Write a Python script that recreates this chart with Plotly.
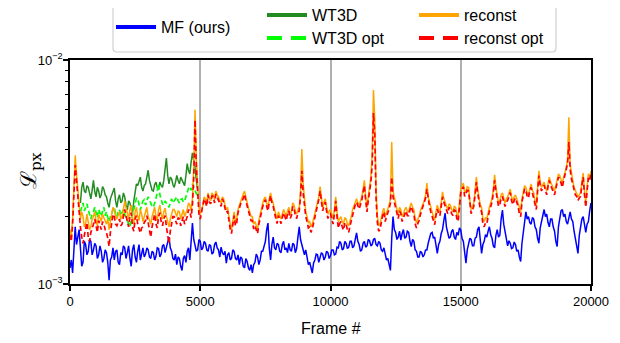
import plotly.graph_objects as go

# ---------------- data (values in units of 1e-3, one value every 50 frames) ----------------
STEP = 50

MF_E3 = [
    1.18, 1.28, 1.12, 1.45, 1.80, 1.50, 1.62, 1.75, 1.45, 1.20, 1.25, 1.55, 1.50, 1.35, 1.40, 1.58, 1.55, 1.35, 1.42, 1.52,
    1.48, 1.30, 1.35, 1.48, 1.40, 1.25, 1.30, 1.42, 1.38, 1.25, 1.04, 1.28, 1.32, 1.45, 1.28, 1.40, 1.42, 1.25, 1.22, 1.38,
    1.35, 1.48, 1.45, 1.30, 1.38, 1.48, 1.30, 1.20, 1.42, 1.50, 1.32, 1.25, 1.40, 1.50, 1.28, 1.38, 1.45, 1.32, 1.36, 1.45,
    1.42, 1.32, 1.30, 1.40, 1.38, 1.28, 1.33, 1.45, 1.44, 1.32, 1.36, 1.48, 1.50, 1.38, 1.45, 1.52, 1.62, 1.45, 1.40, 1.30,
    1.28, 1.36, 1.22, 1.32, 1.30, 1.20, 1.15, 1.30, 1.34, 1.25, 1.40, 1.45, 1.28, 1.55, 1.87, 1.58, 1.50, 1.40, 1.42, 1.58,
    1.55, 1.42, 1.45, 1.55, 1.52, 1.42, 1.40, 1.50, 1.48, 1.36, 1.38, 1.50, 1.54, 1.45, 1.42, 1.32, 1.46, 1.38, 1.35, 1.40,
    1.24, 1.35, 1.38, 1.28, 1.30, 1.42, 1.40, 1.30, 1.28, 1.35, 1.22, 1.32, 1.30, 1.20, 1.18, 1.30, 1.26, 1.18, 1.15, 1.22,
    1.12, 1.22, 1.25, 1.36, 1.32, 1.22, 1.28, 1.40, 1.40, 1.50, 1.55, 1.75, 1.87, 1.45, 1.28, 1.50, 1.62, 1.45, 1.42, 1.52,
    1.50, 1.40, 1.38, 1.50, 1.55, 1.42, 1.45, 1.38, 1.52, 1.42, 1.40, 1.52, 1.50, 1.38, 1.44, 1.62, 1.80, 1.58, 1.50, 1.40,
    1.35, 1.42, 1.30, 1.22, 1.25, 1.16, 1.12, 1.24, 1.28, 1.36, 1.35, 1.25, 1.30, 1.38, 1.36, 1.28, 1.32, 1.40, 1.38, 1.30,
    1.34, 1.42, 1.42, 1.35, 1.36, 1.46, 1.45, 1.55, 1.52, 1.42, 1.44, 1.55, 1.52, 1.44, 1.46, 1.55, 1.55, 1.45, 1.48, 1.60,
    1.69, 1.55, 1.50, 1.40, 1.42, 1.52, 1.55, 1.46, 1.48, 1.58, 1.56, 1.48, 1.50, 1.58, 1.60, 1.50, 1.48, 1.55, 1.52, 1.42,
    1.40, 1.45, 1.36, 1.28, 1.30, 1.22, 1.15, 1.60, 2.00, 1.75, 1.70, 1.58, 1.62, 1.72, 1.57, 1.68, 1.75, 1.60, 1.62, 1.72,
    1.70, 1.55, 1.47, 1.58, 1.55, 1.42, 1.40, 1.32, 1.32, 1.40, 1.38, 1.32, 1.35, 1.42, 1.42, 1.52, 1.58, 1.68, 1.70, 1.60,
    1.62, 1.45, 1.37, 1.50, 1.55, 1.68, 1.75, 1.92, 2.07, 1.80, 1.70, 1.60, 1.62, 1.72, 1.75, 1.62, 1.58, 1.70, 1.65, 1.78,
    1.74, 1.60, 1.55, 1.35, 1.24, 1.42, 1.50, 1.60, 1.58, 1.48, 1.48, 1.60, 1.62, 1.75, 1.80, 1.52, 1.37, 1.50, 1.55, 1.66,
    1.62, 1.72, 1.80, 1.66, 1.60, 1.48, 1.45, 1.65, 1.75, 1.62, 1.65, 1.95, 2.14, 1.85, 1.70, 1.55, 1.48, 1.56, 1.52, 1.44,
    1.45, 1.54, 1.50, 1.40, 1.42, 1.32, 1.26, 1.52, 1.70, 1.95, 2.10, 1.95, 2.00, 1.88, 1.85, 1.98, 1.95, 1.80, 1.75, 1.60,
    1.52, 1.78, 1.90, 2.05, 2.15, 2.00, 2.05, 1.88, 1.80, 1.95, 1.95, 1.80, 1.72, 1.55, 1.47, 1.80, 2.00, 2.12, 2.15, 2.00,
    2.05, 1.90, 1.85, 2.02, 2.10, 1.95, 1.90, 1.72, 1.60, 1.45, 1.37, 1.65, 1.80, 1.95, 2.00, 1.80, 1.70, 1.85, 1.90, 2.12,
    2.30,
]

RECONST_E3 = [
    1.75, 1.62, 1.95, 2.80, 3.75, 3.10, 2.60, 2.20, 1.95, 2.10, 2.00, 1.80, 1.85, 2.05, 1.90, 1.75, 1.80, 1.95, 2.00, 2.10,
    1.92, 1.82, 2.05, 1.95, 1.90, 2.05, 1.98, 1.88, 1.85, 1.95, 1.75, 1.90, 2.05, 2.20, 2.15, 2.00, 1.95, 2.05, 2.10, 1.95,
    2.00, 2.15, 2.35, 2.20, 2.05, 1.95, 2.15, 2.25, 1.95, 1.85, 2.10, 2.20, 2.00, 1.92, 2.15, 2.05, 1.90, 2.00, 2.05, 2.20,
    2.00, 1.92, 1.85, 2.00, 2.10, 2.20, 2.00, 1.92, 2.15, 2.25, 2.05, 1.95, 2.10, 2.18, 2.00, 1.90, 1.80, 1.95, 2.05, 2.15,
    2.15, 2.05, 2.00, 2.12, 2.10, 1.95, 2.05, 2.15, 2.00, 2.08, 2.15, 2.30, 2.25, 2.12, 2.40, 3.30, 6.00, 3.60, 2.70, 2.20,
    2.05, 2.15, 2.25, 2.45, 2.40, 2.30, 2.55, 2.40, 2.35, 2.55, 2.50, 2.38, 2.60, 2.50, 2.45, 2.35, 2.30, 2.45, 2.40, 2.25,
    2.15, 2.20, 2.00, 1.85, 1.75, 1.95, 2.10, 1.90, 1.95, 2.15, 2.25, 2.35, 2.40, 2.52, 2.60, 2.42, 2.30, 2.18, 2.10, 2.00,
    2.00, 1.85, 1.90, 1.80, 1.75, 1.92, 2.05, 2.20, 2.30, 2.40, 2.45, 2.30, 2.20, 2.40, 2.55, 2.38, 2.30, 2.15, 2.05, 1.95,
    2.10, 2.02, 1.95, 2.05, 2.15, 2.08, 2.00, 2.12, 2.20, 2.05, 2.10, 2.30, 2.25, 2.10, 2.05, 2.15, 2.20, 2.60, 4.00, 2.80,
    2.30, 2.10, 2.00, 1.88, 1.90, 1.80, 1.85, 1.95, 2.05, 2.20, 2.30, 2.45, 2.72, 2.35, 2.20, 2.32, 2.40, 2.20, 2.05, 2.12,
    2.15, 2.05, 1.95, 2.15, 2.45, 2.10, 1.90, 1.95, 2.00, 1.90, 1.85, 1.98, 1.95, 1.85, 1.82, 1.92, 2.00, 2.15, 2.25, 2.35,
    2.40, 2.30, 2.25, 2.35, 2.45, 2.65, 2.90, 2.45, 2.20, 2.45, 2.70, 3.00, 3.80, 7.35, 5.40, 2.60, 2.00, 1.82, 1.85, 2.00,
    2.10, 2.18, 2.00, 2.08, 2.15, 2.25, 2.40, 4.30, 2.60, 2.40, 2.30, 2.15, 2.05, 2.20, 2.15, 2.00, 2.05, 2.15, 2.20, 2.10,
    2.10, 2.22, 2.30, 2.20, 2.15, 1.95, 1.87, 1.95, 2.00, 2.12, 2.20, 2.30, 2.35, 2.50, 2.82, 2.45, 2.30, 2.18, 2.10, 2.00,
    1.93, 2.10, 2.25, 2.15, 2.10, 2.30, 2.58, 2.40, 2.30, 2.20, 2.15, 2.28, 2.25, 2.15, 2.10, 2.22, 2.20, 2.05, 2.00, 2.30,
    2.65, 2.75, 2.82, 2.55, 2.60, 2.72, 2.70, 2.35, 2.15, 2.22, 2.30, 2.60, 3.00, 2.65, 2.40, 2.25, 2.20, 1.95, 1.90, 1.98,
    1.95, 2.10, 2.20, 2.30, 2.40, 2.65, 3.07, 2.70, 2.45, 2.30, 2.35, 2.50, 2.55, 2.40, 2.30, 2.40, 2.45, 2.55, 2.65, 2.45,
    2.35, 2.45, 2.50, 2.40, 2.30, 2.15, 2.10, 2.40, 2.60, 2.75, 2.70, 2.55, 2.50, 2.70, 2.80, 2.62, 2.55, 2.35, 2.25, 2.70,
    3.20, 2.85, 2.70, 2.78, 2.85, 2.70, 2.60, 2.80, 3.00, 2.85, 2.75, 2.65, 2.60, 2.75, 2.90, 3.10, 3.05, 2.90, 2.80, 3.00,
    3.15, 3.30, 3.60, 5.55, 3.40, 3.05, 2.90, 2.70, 2.60, 2.55, 2.45, 2.50, 2.55, 2.85, 3.13, 2.60, 2.30, 2.70, 3.10, 3.00,
    3.20,
]

RECONST_OPT_E3 = [
    1.65, 1.55, 1.85, 2.60, 3.40, 2.90, 2.40, 2.05, 1.80, 1.62, 1.52, 1.65, 1.75, 1.88, 1.62, 1.55, 1.70, 1.80, 1.85, 1.95,
    1.78, 1.70, 1.92, 1.82, 1.75, 1.90, 1.85, 1.75, 1.70, 1.60, 1.47, 1.70, 1.90, 2.05, 2.00, 1.85, 1.82, 1.90, 1.95, 1.82,
    1.85, 2.00, 2.15, 2.02, 1.90, 1.80, 2.00, 2.08, 1.80, 1.72, 1.95, 2.02, 1.85, 1.75, 1.69, 1.78, 1.80, 1.88, 1.92, 2.02,
    1.85, 1.72, 1.62, 1.80, 1.95, 2.05, 1.85, 1.78, 2.00, 2.08, 1.90, 1.82, 1.95, 2.02, 1.80, 1.65, 1.52, 1.72, 1.90, 2.00,
    2.00, 1.90, 1.85, 1.98, 1.95, 1.82, 1.90, 2.00, 1.85, 1.92, 2.00, 2.15, 2.10, 1.98, 2.25, 3.00, 5.40, 3.30, 2.50, 2.05,
    1.95, 2.10, 2.18, 2.40, 2.32, 2.22, 2.50, 2.32, 2.28, 2.48, 2.45, 2.30, 2.52, 2.45, 2.38, 2.28, 2.22, 2.40, 2.32, 2.18,
    2.08, 2.12, 1.92, 1.76, 1.68, 1.88, 2.02, 1.82, 1.88, 2.08, 2.18, 2.28, 2.32, 2.45, 2.52, 2.35, 2.22, 2.10, 2.02, 1.92,
    1.92, 1.76, 1.82, 1.72, 1.68, 1.85, 1.98, 2.12, 2.22, 2.32, 2.38, 2.22, 2.12, 2.32, 2.48, 2.30, 2.22, 2.08, 1.96, 1.86,
    2.02, 1.95, 1.86, 1.98, 2.08, 2.00, 1.92, 2.05, 2.12, 1.96, 2.02, 2.22, 2.18, 2.02, 1.96, 2.08, 2.12, 2.45, 3.20, 2.55,
    2.20, 2.00, 1.90, 1.78, 1.80, 1.70, 1.76, 1.86, 1.96, 2.12, 2.22, 2.38, 2.60, 2.26, 2.12, 2.24, 2.32, 2.12, 1.96, 2.04,
    2.06, 1.95, 1.85, 2.06, 2.35, 2.00, 1.78, 1.86, 1.90, 1.80, 1.74, 1.88, 1.85, 1.74, 1.70, 1.82, 1.92, 2.06, 2.16, 2.26,
    2.32, 2.22, 2.16, 2.26, 2.36, 2.55, 2.75, 2.36, 2.10, 2.36, 2.58, 2.85, 3.40, 5.80, 4.60, 2.40, 1.88, 1.72, 1.75, 1.92,
    2.02, 2.10, 1.90, 2.00, 2.06, 2.16, 2.30, 3.00, 2.45, 2.30, 2.22, 2.06, 1.96, 2.12, 2.06, 1.90, 1.96, 2.06, 2.12, 2.02,
    2.02, 2.14, 2.22, 2.12, 2.06, 1.86, 1.78, 1.86, 1.92, 2.04, 2.12, 2.22, 2.28, 2.42, 2.65, 2.36, 2.22, 2.10, 2.02, 1.92,
    1.84, 2.02, 2.16, 2.06, 2.02, 2.22, 2.45, 2.32, 2.22, 2.12, 2.06, 2.20, 2.16, 2.06, 2.02, 2.14, 2.12, 1.96, 1.90, 2.20,
    2.55, 2.66, 2.72, 2.46, 2.52, 2.62, 2.60, 2.26, 2.06, 2.14, 2.22, 2.50, 2.85, 2.55, 2.32, 2.16, 2.10, 1.85, 1.80, 1.88,
    1.86, 2.02, 2.12, 2.22, 2.32, 2.55, 2.90, 2.60, 2.36, 2.22, 2.26, 2.42, 2.46, 2.32, 2.22, 2.32, 2.36, 2.46, 2.56, 2.36,
    2.26, 2.36, 2.42, 2.32, 2.22, 2.06, 2.00, 2.32, 2.52, 2.66, 2.62, 2.46, 2.42, 2.62, 2.70, 2.54, 2.46, 2.26, 2.15, 2.60,
    3.05, 2.75, 2.60, 2.70, 2.76, 2.62, 2.50, 2.72, 2.90, 2.76, 2.66, 2.56, 2.50, 2.66, 2.80, 3.00, 2.95, 2.80, 2.70, 2.90,
    3.05, 3.20, 3.45, 4.30, 3.25, 2.95, 2.80, 2.60, 2.50, 2.46, 2.36, 2.42, 2.46, 2.76, 3.00, 2.50, 2.20, 2.60, 2.98, 2.90,
    3.10,
]

WT_START = 400
WT3D_E3 = [
    2.30, 2.70, 2.85, 2.60, 2.55, 2.75, 2.70, 2.50, 2.40, 2.62,
    2.90, 2.58, 2.45, 2.70, 2.60, 2.42, 2.50, 2.72, 2.65, 2.50,
    2.45, 2.30, 2.20, 2.40, 2.50, 2.62, 2.68, 2.35, 2.20, 2.40,
    2.50, 2.30, 2.35, 2.55, 2.45, 2.25, 2.14, 2.35, 2.30, 2.15,
    2.07, 2.35, 2.60, 2.80, 2.75, 2.90, 3.00, 2.70, 2.60, 2.75,
    2.80, 3.00, 3.22, 2.90, 2.75, 2.62, 2.60, 2.78, 2.85, 2.70,
    2.65, 2.85, 2.75, 2.70, 2.90, 3.20, 3.65, 3.05, 2.80, 3.00,
    2.95, 2.78, 2.70, 2.85, 3.05, 2.90, 2.80, 3.00, 2.90, 2.80,
    2.75, 3.05, 3.45, 3.20, 3.10, 3.50, 3.85, 3.55, 3.30, 2.90,
    2.65,
]

WT3D_OPT_E3 = [
    2.10, 2.22, 2.30, 2.12, 2.20, 2.28, 2.15, 2.02, 1.95, 2.05,
    2.10, 2.20, 2.05, 1.98, 2.15, 2.08, 2.00, 2.12, 2.20, 2.02,
    2.10, 1.98, 1.90, 2.00, 2.05, 2.15, 2.20, 2.05, 2.00, 2.10,
    2.15, 2.02, 2.10, 2.15, 2.05, 1.98, 1.93, 1.88, 1.80, 1.92,
    2.05, 2.20, 2.30, 2.42, 2.40, 2.25, 2.14, 2.25, 2.35, 2.38,
    2.25, 2.35, 2.45, 2.38, 2.30, 2.22, 2.20, 2.30, 2.40, 2.60,
    2.80, 2.50, 2.35, 2.28, 2.25, 2.35, 2.30, 2.24, 2.20, 2.30,
    2.40, 2.30, 2.35, 2.42, 2.45, 2.35, 2.30, 2.38, 2.40, 2.32,
    2.35, 2.45, 2.55, 2.68, 2.72, 2.62, 2.80, 2.70, 2.65, 2.55,
    2.45,
]

FRAMES = [i * STEP for i in range(len(MF_E3))]
WT_FRAMES = [WT_START + i * STEP for i in range(len(WT3D_E3))]
assert len(MF_E3) == len(RECONST_E3) == len(RECONST_OPT_E3) == 401
assert len(WT3D_E3) == len(WT3D_OPT_E3) == 91

NAMES = ["MF (ours)", "WT3D", "WT3D opt", "reconst", "reconst opt"]
X_TICKS = [0, 5000, 10000, 15000, 20000]
Y_TICKS = [1e-3, 1e-2]
Y_TICK_TEXT = ["10<sup>\u22123</sup>", "10<sup>\u22122</sup>"]
Y_MINOR = [2e-3, 3e-3, 4e-3, 5e-3, 6e-3, 7e-3, 8e-3, 9e-3]
X_TITLE = "Frame #"
Y_TITLE = "\u2112<sub>px</sub>"

# ---------------- styling ----------------
FONT = "Liberation Sans"
OFF = 8                      # page body margin of the html page
W, H = 620 - OFF, 343 - OFF
ML, MT = 70 - OFF, 60 - OFF  # plot area left/top in figure pixels
MR, MB = 29, 59
PW, PH = W - ML - MR, H - MT - MB


def e3(v):
    return [x * 1e-3 for x in v]


def px(xp):   # screen pixel -> paper x
    return (xp - OFF - ML) / PW


def py(yp):   # screen pixel -> paper y
    return (H - MB - (yp - OFF)) / PH


styles = [
    dict(x=FRAMES, y=e3(MF_E3), color="#0000ff", dash="solid", w=1.5),
    dict(x=WT_FRAMES, y=e3(WT3D_E3), color="#228b22", dash="solid", w=1.5),
    dict(x=WT_FRAMES, y=e3(WT3D_OPT_E3), color="#00ff00", dash="5px,3px", w=1.7),
    dict(x=FRAMES, y=e3(RECONST_E3), color="#ffa500", dash="solid", w=1.5),
    dict(x=FRAMES, y=e3(RECONST_OPT_E3), color="#ff0000", dash="5px,3px", w=1.7),
]

fig = go.Figure()
for name, s in zip(NAMES, styles):
    fig.add_trace(go.Scatter(
        x=s["x"], y=s["y"], mode="lines", name=name, showlegend=False,
        line=dict(color=s["color"], width=s["w"], dash=s["dash"]),
    ))

# legend entries (thicker handles), one legend per entry for a 3-column layout
legend_pos = [(111, 27), (262, 15), (262, 38), (414, 15), (414, 38)]
legend_keys = ["legend", "legend2", "legend3", "legend4", "legend5"]
for name, s, key in zip(NAMES, styles, legend_keys):
    fig.add_trace(go.Scatter(
        x=[None], y=[None], mode="lines", name=name, showlegend=True,
        legend=key,
        line=dict(color=s["color"], width=4,
                  dash="solid" if s["dash"] == "solid" else "15px,9px"),
    ))

layout_legends = {}
for key, (lx, ly) in zip(legend_keys, legend_pos):
    layout_legends[key] = dict(
        x=(lx - OFF) / W, y=1 - (ly - OFF) / H,
        xref="container", yref="container",
        xanchor="left", yanchor="middle",
        bgcolor="rgba(0,0,0,0)", borderwidth=0,
        font=dict(family=FONT, size=16, color="black"),
        itemwidth=40,
    )

# legend frame
x0, x1 = px(113), px(556)
y0, y1 = py(52), py(2)
rx, ry = 4 / PW, 4 / PH
path = (f"M {x0+rx},{y0} L {x1-rx},{y0} Q {x1},{y0} {x1},{y0+ry} "
        f"L {x1},{y1-ry} Q {x1},{y1} {x1-rx},{y1} L {x0+rx},{y1} "
        f"Q {x0},{y1} {x0},{y1-ry} L {x0},{y0+ry} Q {x0},{y0} {x0+rx},{y0} Z")
fig.add_shape(type="path", path=path, xref="paper", yref="paper",
              line=dict(color="#d0d0d0", width=1.2), fillcolor="white",
              layer="below")

fig.update_layout(
    width=W, height=H,
    margin=dict(l=ML, r=MR, t=MT, b=MB, pad=0, autoexpand=False),
    paper_bgcolor="white", plot_bgcolor="white",
    font=dict(family=FONT, size=13, color="black"),
    annotations=[
        dict(text=X_TITLE, xref="paper", yref="paper", x=px(331), y=py(328),
             xanchor="center", yanchor="middle", showarrow=False,
             font=dict(family=FONT, size=16, color="black")),
        dict(text=Y_TITLE, xref="paper", yref="paper", x=px(30), y=py(171),
             xanchor="center", yanchor="middle", showarrow=False,
             textangle=-90,
             font=dict(family="DejaVu Serif", size=22, color="black")),
    ],
    **layout_legends,
)

fig.update_xaxes(
    range=[0, 20000], tickvals=X_TICKS, ticktext=[str(v) for v in X_TICKS],
    showgrid=True, gridcolor="#b0b0b0", gridwidth=1.6,
    showline=True, linecolor="black", linewidth=1.6, mirror=True,
    ticks="outside", ticklen=5, tickwidth=1.6, tickcolor="black",
    tickfont=dict(family=FONT, size=13), ticklabelstandoff=0,
    zeroline=False, automargin=False,
)

fig.update_yaxes(
    type="log", range=[-3, -2], tickvals=Y_TICKS, ticktext=Y_TICK_TEXT,
    showgrid=False,
    showline=True, linecolor="black", linewidth=1.6, mirror=True,
    ticks="outside", ticklen=5, tickwidth=1.6, tickcolor="black",
    tickfont=dict(family=FONT, size=13), ticklabelstandoff=-2,
    zeroline=False, automargin=False,
    minor=dict(tickvals=Y_MINOR, ticks="outside", ticklen=3,
               tickwidth=1.1, tickcolor="black", showgrid=False),
)

fig.write_html("out.html")
